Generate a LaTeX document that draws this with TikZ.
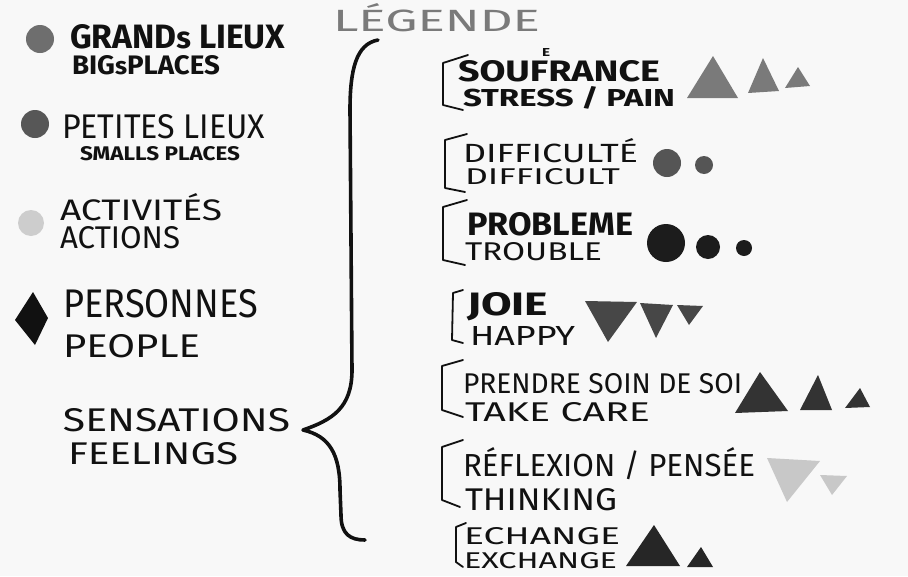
\documentclass[tikz,border=0pt]{standalone}
\usepackage{fontspec}
\setmainfont{Fira Sans}
\usepackage{graphicx}
\definecolor{paper}{HTML}{F8F8F8}
\definecolor{gBig}{HTML}{6E6E6E}
\definecolor{gSmall}{HTML}{575757}
\definecolor{gAct}{HTML}{CDCDCD}
\definecolor{gSouf}{HTML}{7A7A7A}
\definecolor{gDiff}{HTML}{555555}
\definecolor{gProb}{HTML}{1C1C1C}
\definecolor{gJoie}{HTML}{474747}
\definecolor{gSoin}{HTML}{333333}
\definecolor{gRefl}{HTML}{C8C8C8}
\definecolor{gEch}{HTML}{262626}
\definecolor{ink}{HTML}{111111}
\newcommand\fitbox[3]{\resizebox{#1pt}{#2pt}{#3}}
\tikzset{
  txt/.style={anchor=base west, inner sep=0pt, outer sep=0pt, text=ink},
  brk/.style={draw=ink, line width=1.8pt, line cap=round, line join=round},
  brace/.style={draw=ink, line width=3.6pt, line cap=round, line join=round},
}
\begin{document}
\begin{tikzpicture}[x=1pt,y=-1pt]
\useasboundingbox (0,0) rectangle (908,576);
\fill[paper] (0,0) rectangle (908,576);

% ---------- left column ----------
\fill[gBig] (40,39) circle (14);
\node[txt] (grand) at (70,48) {\fitbox{215}{24}{\bfseries GRAND{\small s} LIEUX}};
\node[txt] (big) at (72,74) {\fitbox{148}{19}{\bfseries BIG{\small s}PLACES}};

\fill[gSmall] (35,124) circle (14);
\node[txt] (petites) at (62,138) {\fitbox{203}{24}{PETITES LIEUX}};
\node[txt] (smalls) at (80,160) {\fitbox{160}{14}{\bfseries SMALLS PLACES}};

\fill[gAct] (31,223) circle (13);
\node[txt] (activites) at (60,220) {\fitbox{162}{27}{ACTIVITÉS}};
\node[txt] (actions) at (60,248) {\fitbox{120}{22}{ACTIONS}};

\fill[ink] (33,292) -- (48,318) -- (35,345) -- (15,320) -- cycle;
\node[txt] (personnes) at (63,317) {\fitbox{195}{28}{PERSONNES}};
\node[txt] (people) at (63,357) {\fitbox{137}{23}{PEOPLE}};

\node[txt] (sensations) at (63,431) {\fitbox{227}{23}{SENSATIONS}};
\node[txt] (feelings) at (68,464) {\fitbox{170}{22}{FEELINGS}};

% ---------- title ----------
\node[txt, text=gSouf] (legende) at (333,31) {\fitbox{207}{28}{LÉGENDE}};

% ---------- big brace ----------
\coordinate (bTop) at (378,40);
\coordinate (bTip) at (303,430);
\coordinate (bBot) at (365,540);
\draw[brace] (bTop) .. controls (356,44) and (350,70) .. (350,110)
  -- (352,370) .. controls (352,408) and (332,420) .. (bTip)
  .. controls (330,436) and (340,455) .. (340,490)
  -- (341,515) .. controls (341,534) and (350,540) .. (bBot);

% ---------- right column ----------
% Souffrance
\draw[brk] (468,55) -- (443,63) -- (443,105) -- (463,110);
\node[txt] (soufrance) at (458,81) {\fitbox{202}{21}{\bfseries SOUFRANCE}};
\node[txt] (soufE) at (542,56) {\fitbox{8}{8}{\bfseries E}};
\node[txt] (stress) at (463,106) {\fitbox{212}{20}{\bfseries STRESS / PAIN}};
\fill[gSouf] (687,98) -- (713,56) -- (738,98) -- cycle;
\fill[gSouf] (748,93) -- (763,58) -- (779,91) -- cycle;
\fill[gSouf] (785,88) -- (798,67) -- (810,86) -- cycle;

% Difficulte
\draw[brk] (467,134) -- (445,140) -- (445,188) -- (465,192);
\node[txt] (difficulte) at (463,162) {\fitbox{175}{24}{DIFFICULTÉ}};
\node[txt] (difficult) at (465,184) {\fitbox{155}{16}{DIFFICULT}};
\fill[gDiff] (667,163) circle (14);
\fill[gDiff] (704,165) circle (9);

% Probleme
\draw[brk] (467,200) -- (443,207) -- (443,260) -- (465,265);
\node[txt] (probleme) at (467,235) {\fitbox{166}{23}{\bfseries PROBLEME}};
\node[txt] (trouble) at (465,260) {\fitbox{137}{18}{TROUBLE}};
\fill[gProb] (666,243) circle (19);
\fill[gProb] (708,247) circle (12);
\fill[gProb] (744,248) circle (8);

% Joie
\draw[brk] (463,290) -- (453,293) -- (452,340) -- (463,343);
\node[txt] (joie) at (467,315) {\fitbox{81}{23}{\bfseries JOIE}};
\node[txt] (happy) at (470,345) {\fitbox{105}{19}{HAPPY}};
\fill[gJoie] (585,301) -- (637,302) -- (608,342) -- cycle;
\fill[gJoie] (640,303) -- (673,305) -- (656,338) -- cycle;
\fill[gJoie] (677,305) -- (703,306) -- (689,325) -- cycle;

% Prendre soin de soi
\draw[brk] (463,360) -- (442,366) -- (442,410) -- (463,417);
\node[txt] (prendre) at (463,393) {\fitbox{279}{20}{PRENDRE SOIN DE SOI}};
\node[txt] (takecare) at (465,421) {\fitbox{185}{19}{TAKE CARE}};
\fill[gSoin] (735,413) -- (760,372) -- (788,411) -- cycle;
\fill[gSoin] (800,410) -- (818,375) -- (832,410) -- cycle;
\fill[gSoin] (845,408) -- (860,388) -- (870,407) -- cycle;

% Reflexion
\draw[brk] (463,440) -- (442,447) -- (442,500) -- (460,507);
\node[txt] (reflexion) at (463,476) {\fitbox{292}{29}{RÉFLEXION / PENSÉE}};
\node[txt] (thinking) at (465,510) {\fitbox{152}{22}{THINKING}};
\fill[gRefl] (767,458) -- (820,461) -- (787,502) -- cycle;
\fill[gRefl] (820,475) -- (847,476) -- (832,495) -- cycle;

% Echange
\draw[brk] (466,523) -- (456,527) -- (456,562) -- (463,567);
\node[txt] (echange) at (464,544) {\fitbox{156}{17}{ECHANGE}};
\node[txt] (exchange) at (464,568) {\fitbox{153}{16}{EXCHANGE}};
\fill[gEch] (626,566) -- (654,525) -- (680,566) -- cycle;
\fill[gEch] (687,567) -- (701,547) -- (713,567) -- cycle;
\end{tikzpicture}
\end{document}
